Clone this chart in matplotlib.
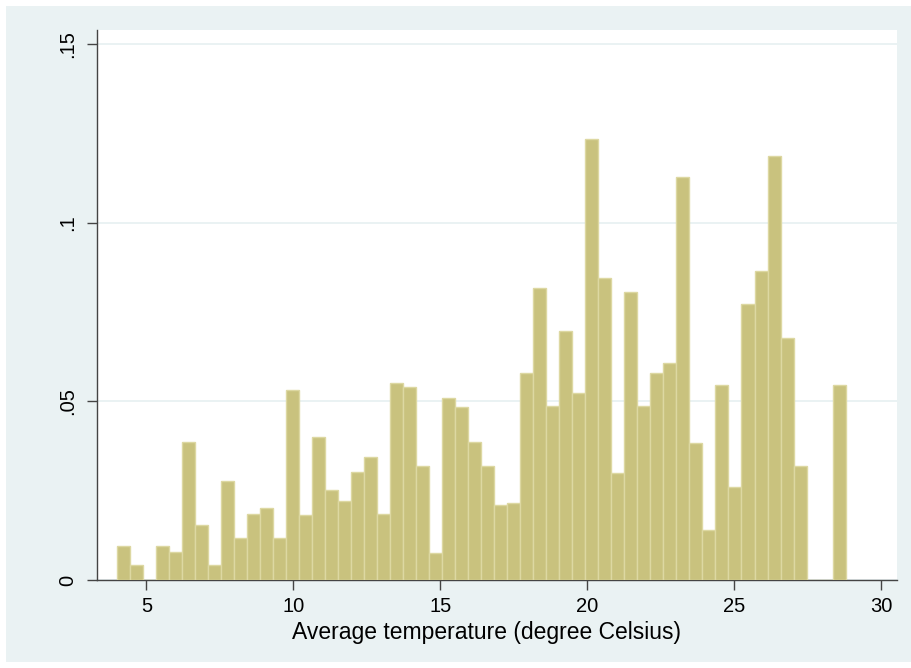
import numpy as np
import matplotlib.pyplot as plt
from matplotlib.patches import Rectangle

plt.rcParams['font.family'] = ['Liberation Sans', 'DejaVu Sans']

# histogram: 56 bins of average temperature, density scale
bin_start = 4.0
bin_width = 0.4425
density = [
    0.0095, 0.0043, 0.0, 0.0095, 0.0078, 0.0386, 0.0154, 0.0043, 0.0278, 0.0117,
    0.0184, 0.0202, 0.0119, 0.0533, 0.0181, 0.0400, 0.0251, 0.0222, 0.0302, 0.0345,
    0.0186, 0.0552, 0.0541, 0.0319, 0.0077, 0.0509, 0.0484, 0.0387, 0.0318, 0.0210,
    0.0217, 0.0581, 0.0818, 0.0487, 0.0697, 0.0525, 0.1235, 0.0846, 0.0301, 0.0807,
    0.0487, 0.0581, 0.0609, 0.1128, 0.0383, 0.0140, 0.0545, 0.0261, 0.0772, 0.0866,
    0.1186, 0.0677, 0.0318, 0.0, 0.0, 0.0545,
]
x_ticks = [5, 10, 15, 20, 25, 30]
y_ticks = [0, 0.05, 0.10, 0.15]
y_ticklabels = ['0', '.05', '.1', '.15']
x_title = 'Average temperature (degree Celsius)'

bg = '#EAF2F3'
fill = '#C9C27E'
edge = '#DDD8A2'

fig = plt.figure(figsize=(9.11, 6.68), dpi=100)
fig.patch.set_facecolor('white')
fig.patches.append(Rectangle((6 / 911, 6 / 668), 905 / 911, 656 / 668,
                             transform=fig.transFigure, facecolor=bg,
                             edgecolor='none', zorder=-10))

ax = fig.add_axes([96.7 / 911, 1 - 580 / 668, (897.3 - 96.7) / 911, 550 / 668])
ax.set_facecolor('white')

lefts = bin_start + bin_width * np.arange(len(density))
ax.bar(lefts, density, width=bin_width, align='edge', color=fill,
       edgecolor=edge, linewidth=1.0, zorder=3)

ax.set_xlim(3.306, 30.54)
ax.set_ylim(0, 0.154)

ax.set_yticks(y_ticks)
ax.set_yticklabels(y_ticklabels, rotation=90, va='center')
ax.set_xticks(x_ticks)
ax.grid(axis='y', color=bg, linewidth=1.4, zorder=0)
ax.set_axisbelow(True)

for s in ['top', 'right']:
    ax.spines[s].set_visible(False)
for s in ['left', 'bottom']:
    ax.spines[s].set_color('#444444')
    ax.spines[s].set_linewidth(1.0)

ax.tick_params(axis='both', colors='#444444', labelcolor='black',
               length=7, width=1.0, labelsize=14.5)
ax.tick_params(axis='x', pad=5)
ax.tick_params(axis='y', pad=7)

ax.set_xlabel(x_title, fontsize=16.5)
ax.xaxis.set_label_coords(0.4875, -0.075)

fig.savefig('out.png', dpi=100)
